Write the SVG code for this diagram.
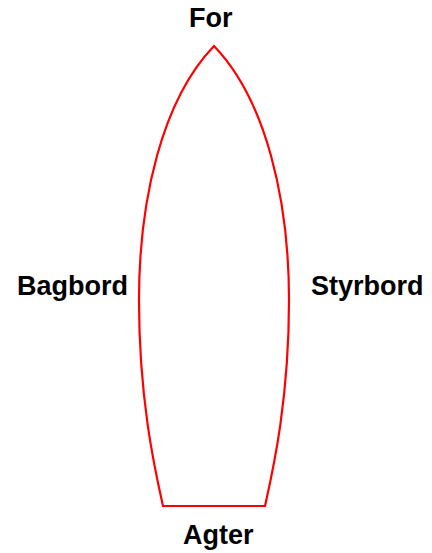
<svg xmlns="http://www.w3.org/2000/svg" width="432" height="553" viewBox="0 0 432 553">
<style>
.lbl{font-family:"Liberation Sans",Arial,sans-serif;font-weight:bold;font-size:27px;fill:#000}
.hull{fill:none;stroke:#ff0000;stroke-width:2.2;stroke-linejoin:miter}
</style>
<rect width="432" height="553" fill="#fff"/>
<path class="hull" d="M214,46 C162,100 139,200 139,300 C139,400 155,470 163,506 L265,506 C273,470 289,400 289,300 C289,200 266,100 214,46 Z"/>
<text class="lbl" x="189" y="27">For</text>
<text class="lbl" x="17" y="295">Bagbord</text>
<text class="lbl" x="311" y="295">Styrbord</text>
<text class="lbl" x="183" y="544">Agter</text>
</svg>
